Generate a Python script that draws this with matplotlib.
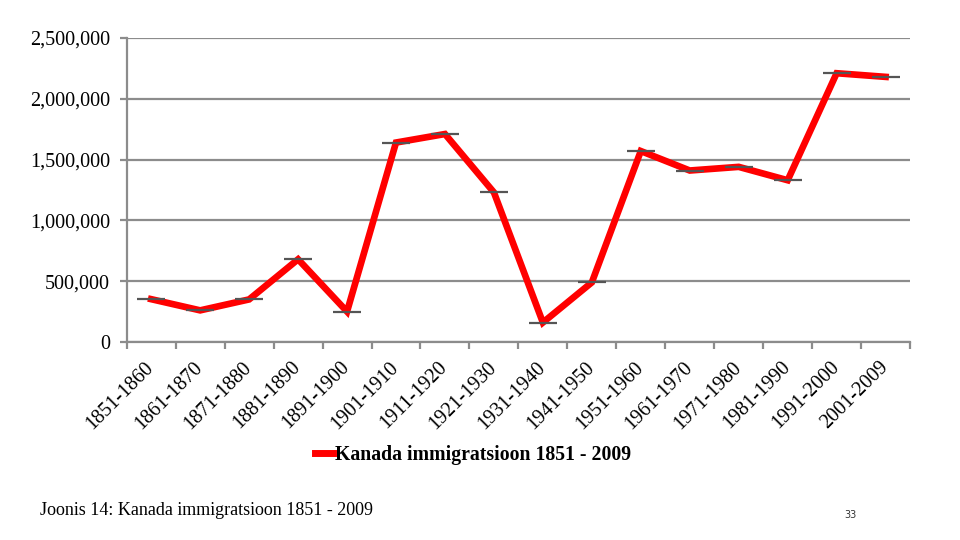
import numpy as np
import matplotlib.pyplot as plt
from matplotlib.ticker import FuncFormatter, FixedLocator
from matplotlib.lines import Line2D

plt.rcParams['font.family'] = ['Liberation Serif', 'DejaVu Serif']

periods = ['1851-1860', '1861-1870', '1871-1880', '1881-1890', '1891-1900',
           '1901-1910', '1911-1920', '1921-1930', '1931-1940', '1941-1950',
           '1951-1960', '1961-1970', '1971-1980', '1981-1990', '1991-2000',
           '2001-2009']
immigrants = [352000, 260000, 350000, 680000, 250000,
              1640000, 1710000, 1230000, 160000, 490000,
              1570000, 1410000, 1440000, 1330000, 2210000,
              2180000]
series_name = 'Kanada immigratsioon 1851 - 2009'

fig = plt.figure(figsize=(9.6, 5.4), dpi=100)
ax = fig.add_axes([0.132, 0.3667, 0.816, 0.563])

x = np.arange(len(periods))
ax.plot(x, immigrants, color='#ff0000', lw=4.8, solid_joinstyle='miter',
        marker='_', ms=20, mew=1.6, mec='#555555', zorder=3)

ax.set_xlim(-0.5, len(periods) - 0.5)
ax.set_ylim(0, 2500000)
ax.set_yticks(np.arange(0, 2500001, 500000))
ax.yaxis.set_major_formatter(FuncFormatter(lambda v, p: f'{int(v):,}'))
ax.grid(axis='y', color='#8c8c8c', lw=1.6, zorder=0)

# tick marks between categories, labels drawn at category centres
ax.xaxis.set_major_locator(FixedLocator(np.arange(-0.5, len(periods), 1)))
ax.xaxis.set_major_formatter(FuncFormatter(lambda v, p: ''))
for i, lab in enumerate(periods):
    ax.annotate(lab, xy=(i, 0), xycoords=('data', 'axes fraction'),
                xytext=(-5, -11.5), textcoords='offset points',
                rotation=45, ha='right', va='top', rotation_mode='anchor',
                fontsize=14.5, annotation_clip=False)
ax.tick_params(axis='x', which='major', length=5, color='#8c8c8c', width=1.6)
ax.tick_params(axis='y', length=5, color='#8c8c8c', width=1.6,
               labelsize=14.5, pad=7)

for s in ['top', 'right']:
    ax.spines[s].set_visible(False)
for s in ['left', 'bottom']:
    ax.spines[s].set_color('#8c8c8c')
    ax.spines[s].set_linewidth(1.6)

handle = Line2D([], [], color='#ff0000', lw=5)
fig.legend([handle], [series_name], loc='center',
           bbox_to_anchor=(0.493, 0.157), frameon=False,
           prop={'weight': 'bold', 'size': 14.2}, handlelength=0.9,
           handletextpad=0.1)

fig.text(0.042, 0.054, 'Joonis 14: Kanada immigratsioon 1851 - 2009',
         fontsize=13, ha='left', va='center')
fig.text(0.886, 0.046, '33', fontsize=7, ha='center', va='center',
         family='DejaVu Sans', color='#333333')

fig.savefig('out.png', dpi=100)
